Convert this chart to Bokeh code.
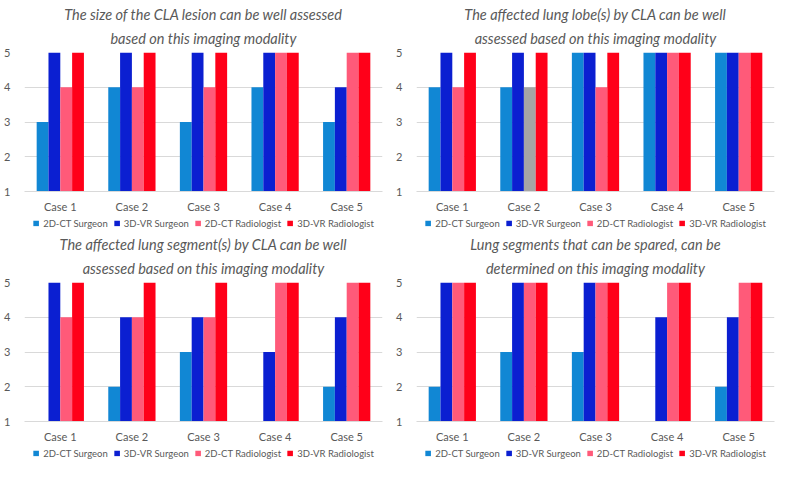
from bokeh.plotting import figure
from bokeh.layouts import column, row
from bokeh.models import ColumnDataSource, Legend, LegendItem, FixedTicker, Title
from bokeh.transform import dodge
from bokeh.embed import file_html
from bokeh.resources import INLINE

cases = ["Case 1", "Case 2", "Case 3", "Case 4", "Case 5"]
series = ["2D-CT Surgeon", "3D-VR Surgeon", "2D-CT Radiologist", "3D-VR Radiologist"]

title_lines = [
    ["The size of the CLA lesion can be well assessed", "based on this imaging modality"],
    ["The affected lung lobe(s) by CLA can be well", "assessed based on this imaging modality"],
    ["The affected lung segment(s) by CLA can be well", "assessed based on this imaging modality"],
    ["Lung segments that can be spared, can be", "determined on this imaging modality"],
]

# values per panel, per series (Case 1..5)
size_ct_surg = [3, 4, 3, 4, 3]
size_vr_surg = [5, 5, 5, 5, 4]
size_ct_rad = [4, 4, 4, 5, 5]
size_vr_rad = [5, 5, 5, 5, 5]

lobe_ct_surg = [4, 4, 5, 5, 5]
lobe_vr_surg = [5, 5, 5, 5, 5]
lobe_ct_rad = [4, 4, 4, 5, 5]
lobe_vr_rad = [5, 5, 5, 5, 5]

seg_ct_surg = [1, 2, 3, 1, 2]
seg_vr_surg = [5, 4, 4, 3, 4]
seg_ct_rad = [4, 4, 4, 5, 5]
seg_vr_rad = [5, 5, 5, 5, 5]

spare_ct_surg = [2, 3, 3, 1, 2]
spare_vr_surg = [5, 5, 5, 4, 4]
spare_ct_rad = [5, 5, 5, 5, 5]
spare_vr_rad = [5, 5, 5, 5, 5]

panels = [
    [size_ct_surg, size_vr_surg, size_ct_rad, size_vr_rad],
    [lobe_ct_surg, lobe_vr_surg, lobe_ct_rad, lobe_vr_rad],
    [seg_ct_surg, seg_vr_surg, seg_ct_rad, seg_vr_rad],
    [spare_ct_surg, spare_vr_surg, spare_ct_rad, spare_vr_rad],
]

y_ticks = [1, 2, 3, 4, 5]

colors = ["#1187d4", "#0b1fd1", "#ff5a79", "#ff0019"]
gray = "#a5a5a5"
text_color = "#595959"
FONT = "Lato"

bar_w = 0.165
offsets = [-1.5 * bar_w, -0.5 * bar_w, 0.5 * bar_w, 1.5 * bar_w]


def make_title(text, standoff):
    return Title(text=text, align="center", text_font=FONT, text_font_style="italic",
                 text_font_size="14.5px", text_color=text_color, standoff=standoff)


blocks = []
for k, (lines, data) in enumerate(zip(title_lines, panels)):
    p = figure(x_range=cases, y_range=(1, 5), width=392, height=215,
               output_backend="svg", toolbar_location=None,
               min_border_left=24, min_border_right=10, min_border_top=52,
               min_border_bottom=16)
    p.title.visible = False
    p.add_layout(make_title(lines[1], 11), "above")
    p.add_layout(make_title(lines[0], 0), "above")
    for i, vals in enumerate(data):
        cols = [colors[i]] * len(cases)
        if k == 1 and i == 2:
            cols[1] = gray
        src = ColumnDataSource(dict(x=cases, top=vals, bottom=[1] * len(vals), c=cols))
        p.vbar(x=dodge("x", offsets[i], range=p.x_range), top="top", bottom="bottom",
               width=bar_w, source=src, fill_color="c", line_color=None)

    p.yaxis.ticker = FixedTicker(ticks=y_ticks)
    p.yaxis.axis_line_color = None
    p.yaxis.major_tick_line_color = None
    p.yaxis.minor_tick_line_color = None
    p.yaxis.major_label_text_font = FONT
    p.yaxis.major_label_text_font_size = "11px"
    p.yaxis.major_label_text_color = text_color
    p.yaxis.major_label_standoff = 8
    p.xaxis.axis_line_color = "#d9d9d9"
    p.xaxis.major_tick_line_color = None
    p.xaxis.minor_tick_line_color = None
    p.xaxis.major_label_text_font = FONT
    p.xaxis.major_label_text_font_size = "11px"
    p.xaxis.major_label_text_color = text_color
    p.xaxis.major_label_standoff = 2
    p.xgrid.grid_line_color = None
    p.ygrid.grid_line_color = "#d9d9d9"
    p.outline_line_color = None
    p.x_range.range_padding = 0.0

    # legend strip below the chart
    lg = figure(width=392, height=15, x_range=(0, 1), y_range=(0, 1),
                output_backend="svg", toolbar_location=None,
                x_axis_location=None, y_axis_location=None,
                min_border_left=8, min_border_right=0, min_border_top=0,
                min_border_bottom=0)
    lg.grid.grid_line_color = None
    lg.outline_line_color = None
    lg.title.visible = False
    items = []
    for i, name in enumerate(series):
        dummy = ColumnDataSource(dict(x=[0.5], top=[0], bottom=[0]))
        r = lg.vbar(x="x", top="top", bottom="bottom", width=0.01, source=dummy,
                    fill_color=colors[i], line_color=None)
        items.append(LegendItem(label=name, renderers=[r]))
    legend = Legend(items=items, orientation="horizontal", location="center",
                    border_line_color=None, background_fill_alpha=0,
                    glyph_width=7, glyph_height=7, label_text_font=FONT,
                    label_text_font_size="9.5px", label_text_color=text_color,
                    label_height=10, spacing=5, padding=0, margin=0, label_standoff=4)
    lg.add_layout(legend, "center")
    blocks.append(column(p, lg, spacing=0))

layout = column(row(blocks[0], blocks[1], spacing=0), row(blocks[2], blocks[3], spacing=0), spacing=0)
open("out.html", "w").write(file_html(layout, INLINE))
